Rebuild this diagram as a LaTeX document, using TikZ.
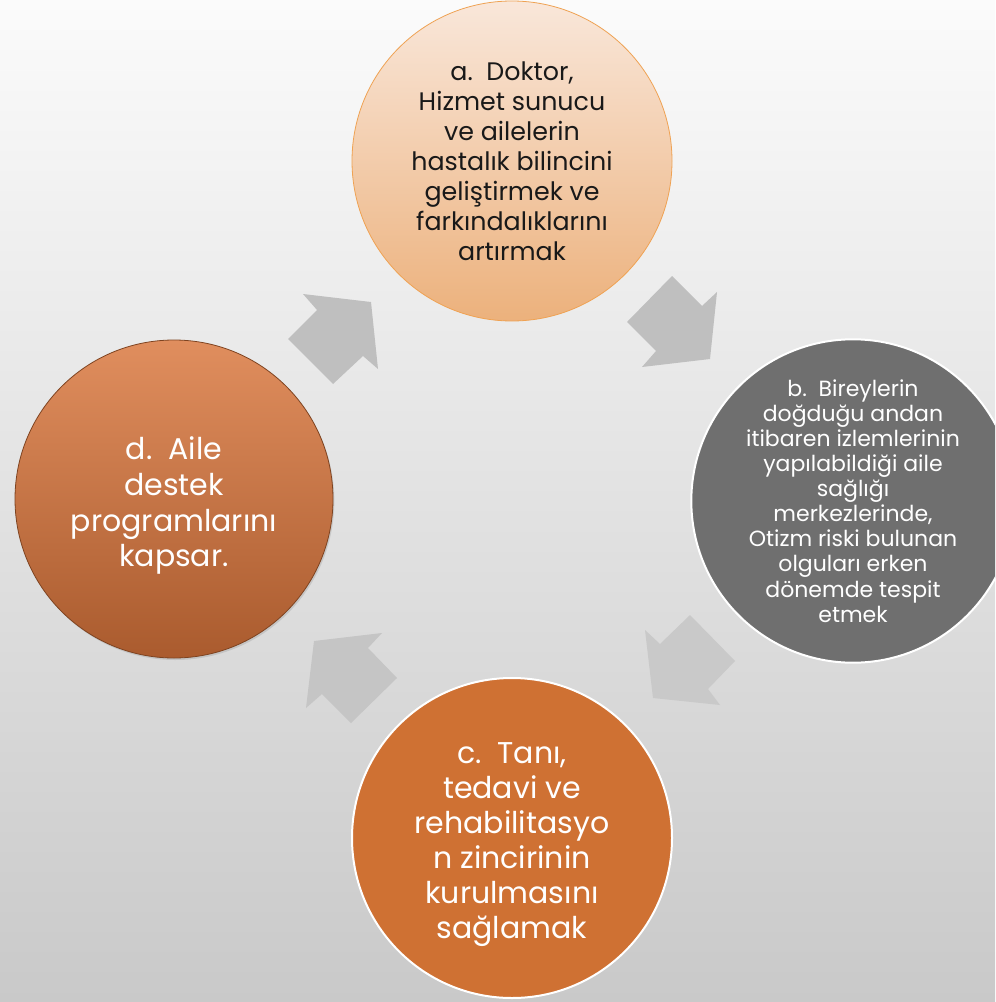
\documentclass[tikz,border=0pt]{standalone}
\usepackage{fontspec}
\setmainfont{Poppins}
\usetikzlibrary{shadows}

\definecolor{zeminust}{HTML}{FBFBFB}
\definecolor{zeminalt}{HTML}{C9C9C9}
\definecolor{okgri}{HTML}{BFBFBF}
\definecolor{seftaliust}{HTML}{F9E7DA}
\definecolor{seftalialt}{HTML}{ECB17C}
\definecolor{seftalicizgi}{HTML}{EFA253}
\definecolor{koyugri}{HTML}{6F6F6F}
\definecolor{turuncu}{HTML}{CF7133}
\definecolor{kiremitust}{HTML}{E08E5E}
\definecolor{kiremitalt}{HTML}{AA5B2E}
\definecolor{kiremitcizgi}{HTML}{7E4320}

\begin{document}
\begin{tikzpicture}[x=0.75pt,y=-0.75pt,
    daire/.style={circle,minimum size=240pt,inner sep=0pt,align=center},
    yazi/.style={align=center,text=white,inner sep=0pt},
    ok/.style={fill=okgri}]

    \useasboundingbox (0,0) rectangle (995,1002);
    \clip (0,0) rectangle (995,1002);
    \shade[top color=zeminust,bottom color=zeminalt] (0,0) rectangle (995,1002);

    % daireler
    \node[daire,top color=seftaliust,bottom color=seftalialt,draw=seftalicizgi,line width=0.6pt,
        font=\fontsize{19}{22.5}\selectfont,text=black!90] (a) at (512,161)
        {a.\ \ Doktor,\\Hizmet sunucu\\ve ailelerin\\hastalık bilincini\\geliştirmek ve\\farkındalıklarını\\artırmak};
    \node[daire,minimum size=241.5pt,fill=koyugri,draw=white,line width=1.5pt,
        font=\fontsize{16.5}{18.8}\selectfont,text=white] (b) at (853,501)
        {b.\ \ Bireylerin\\doğduğu andan\\itibaren izlemlerinin\\yapılabildiği aile\\sağlığı\\merkezlerinde,\\Otizm riski bulunan\\olguları erken\\dönemde tespit\\etmek};
    \node[daire,fill=turuncu,draw=white,line width=1.5pt,
        label={[yazi,font=\fontsize{22.5}{26.3}\selectfont,yshift=-5pt]center:c.\ \ Tanı,\\tedavi ve\\rehabilitasyo\\n zincirinin\\kurulmasını\\sağlamak}] (c) at (512,838) {};
    \node[daire,minimum size=238.5pt,top color=kiremitust,bottom color=kiremitalt,draw=kiremitcizgi,line width=0.6pt,
        drop shadow={opacity=0.25,shadow xshift=1pt,shadow yshift=-1.5pt},
        label={[yazi,font=\fontsize{22.5}{26.8}\selectfont,yshift=-5pt]center:d.\ \ Aile\\destek\\programlarını\\kapsar.}] (d) at (174,499) {};

    % oklar
    \fill[ok] (288,339) -- (317,310) -- (303,294) -- (371,302) -- (378,369) -- (363,356) -- (333,384) -- cycle;
    \fill[ok] (672,276) -- (702,306) -- (717,292) -- (710,359) -- (642,367) -- (656,351) -- (627,322) -- cycle;
    \fill[ok,fill=okgri!85] (690,615) -- (735,661) -- (708,689) -- (720,705) -- (653,698) -- (645,630) -- (660,644) -- cycle;
    \fill[ok,fill=okgri!90] (382,633) -- (368,648) -- (397,678) -- (351,723) -- (322,694) -- (306,708) -- (314,641) -- cycle;
\end{tikzpicture}
\end{document}
